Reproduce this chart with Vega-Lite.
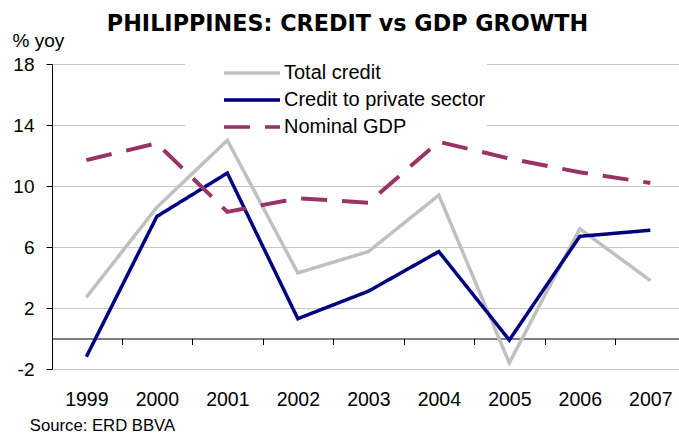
{
  "$schema": "https://vega.github.io/schema/vega-lite/v6.json",
  "width": 627,
  "height": 305,
  "autosize": {"type": "none"},
  "padding": {"left": 52, "top": 64, "right": 0, "bottom": 64},
  "background": "white",
  "config": {"view": {"stroke": null}, "font": "Liberation Sans"},
  "title": {
    "text": "PHILIPPINES: CREDIT vs GDP GROWTH",
    "font": "DejaVu Sans",
    "fontSize": 22.3,
    "fontWeight": "bold",
    "color": "black",
    "anchor": "middle",
    "dx": -18,
    "offset": -22.5,
    "baseline": "alphabetic"
  },
  "data": {
    "values": [
      {"year": 1999, "series": "Total credit", "value": 2.7},
      {"year": 2000, "series": "Total credit", "value": 8.6},
      {"year": 2001, "series": "Total credit", "value": 13.0},
      {"year": 2002, "series": "Total credit", "value": 4.3},
      {"year": 2003, "series": "Total credit", "value": 5.7},
      {"year": 2004, "series": "Total credit", "value": 9.4},
      {"year": 2005, "series": "Total credit", "value": -1.6},
      {"year": 2006, "series": "Total credit", "value": 7.2},
      {"year": 2007, "series": "Total credit", "value": 3.8},
      {"year": 1999, "series": "Credit to private sector", "value": -1.2},
      {"year": 2000, "series": "Credit to private sector", "value": 8.0},
      {"year": 2001, "series": "Credit to private sector", "value": 10.85},
      {"year": 2002, "series": "Credit to private sector", "value": 1.3},
      {"year": 2003, "series": "Credit to private sector", "value": 3.1},
      {"year": 2004, "series": "Credit to private sector", "value": 5.7},
      {"year": 2005, "series": "Credit to private sector", "value": -0.1},
      {"year": 2006, "series": "Credit to private sector", "value": 6.7},
      {"year": 2007, "series": "Credit to private sector", "value": 7.1},
      {"year": 1999, "series": "Nominal GDP", "value": 11.7},
      {"year": 2000, "series": "Nominal GDP", "value": 12.8},
      {"year": 2001, "series": "Nominal GDP", "value": 8.3},
      {"year": 2002, "series": "Nominal GDP", "value": 9.2},
      {"year": 2003, "series": "Nominal GDP", "value": 8.9},
      {"year": 2004, "series": "Nominal GDP", "value": 12.9},
      {"year": 2005, "series": "Nominal GDP", "value": 11.8},
      {"year": 2006, "series": "Nominal GDP", "value": 10.9},
      {"year": 2007, "series": "Nominal GDP", "value": 10.2}
    ]
  },
  "encoding": {
    "x": {
      "field": "year",
      "type": "quantitative",
      "scale": {"domain": [1998.513, 2007.407], "nice": false, "zero": false},
      "axis": {
        "values": [1999, 2000, 2001, 2002, 2003, 2004, 2005, 2006, 2007],
        "format": "d",
        "offset": -30.5,
        "grid": false,
        "domainColor": "black",
        "domainWidth": 1,
        "tickColor": "black",
        "tickSize": 6,
        "tickOffset": 35.25,
        "labelOffset": -35.25,
        "labelPadding": 46,
        "labelFontSize": 19.5,
        "labelFont": "Liberation Sans",
        "labelColor": "black",
        "labelFlush": false,
        "labelOverlap": false,
        "title": "Source: ERD BBVA",
        "titleAnchor": "start",
        "titleAlign": "left",
        "titleX": -22.7,
        "titleY": 91.5,
        "titleBaseline": "alphabetic",
        "titleFontSize": 16.7,
        "titleFontWeight": "normal",
        "titleFont": "Liberation Sans",
        "titleColor": "black"
      }
    },
    "y": {
      "field": "value",
      "type": "quantitative",
      "scale": {"domain": [-2, 18], "nice": false, "zero": false},
      "axis": {
        "values": [-2, 2, 6, 10, 14, 18],
        "labelExpr": "'' + datum.value",
        "grid": true,
        "gridColor": "#c8c8c8",
        "gridWidth": 1,
        "domainColor": "black",
        "domainWidth": 1,
        "tickColor": "black",
        "tickSize": 6,
        "labelFontSize": 19,
        "labelFont": "Liberation Sans",
        "labelColor": "black",
        "labelPadding": 12,
        "labelFlush": false,
        "title": "% yoy",
        "titleAngle": 0,
        "titleX": -40,
        "titleY": -18,
        "titleAlign": "left",
        "titleBaseline": "alphabetic",
        "titleFontSize": 19,
        "titleFontWeight": "normal",
        "titleFont": "Liberation Sans",
        "titleColor": "black"
      }
    },
    "color": {
      "field": "series",
      "type": "nominal",
      "scale": {
        "domain": ["Total credit", "Credit to private sector", "Nominal GDP"],
        "range": ["#c0c0c0", "#000080", "#993366"]
      },
      "legend": {
        "orient": "none",
        "legendX": 133,
        "legendY": -1,
        "title": null,
        "fillColor": "white",
        "padding": 1,
        "symbolOffset": 36,
        "symbolType": "stroke",
        "symbolSize": 3136,
        "symbolStrokeWidth": 3.5,
        "clipHeight": 18,
        "labelFontSize": 20,
        "labelFont": "Liberation Sans",
        "labelColor": "black",
        "labelOffset": 2,
        "rowPadding": 7,
        "labelLimit": 400
      }
    },
    "strokeDash": {
      "field": "series",
      "type": "nominal",
      "scale": {
        "domain": ["Total credit", "Credit to private sector", "Nominal GDP"],
        "range": [[1, 0], [1, 0], [26, 15]]
      }
    }
  },
  "layer": [
    {
      "transform": [{"filter": "datum.series === 'Total credit'"}],
      "mark": {"type": "line", "strokeWidth": 3.5}
    },
    {
      "transform": [{"filter": "datum.series === 'Credit to private sector'"}],
      "mark": {"type": "line", "strokeWidth": 3.5}
    },
    {
      "transform": [{"filter": "datum.series === 'Nominal GDP'"}],
      "mark": {"type": "line", "strokeWidth": 4}
    }
  ]
}
